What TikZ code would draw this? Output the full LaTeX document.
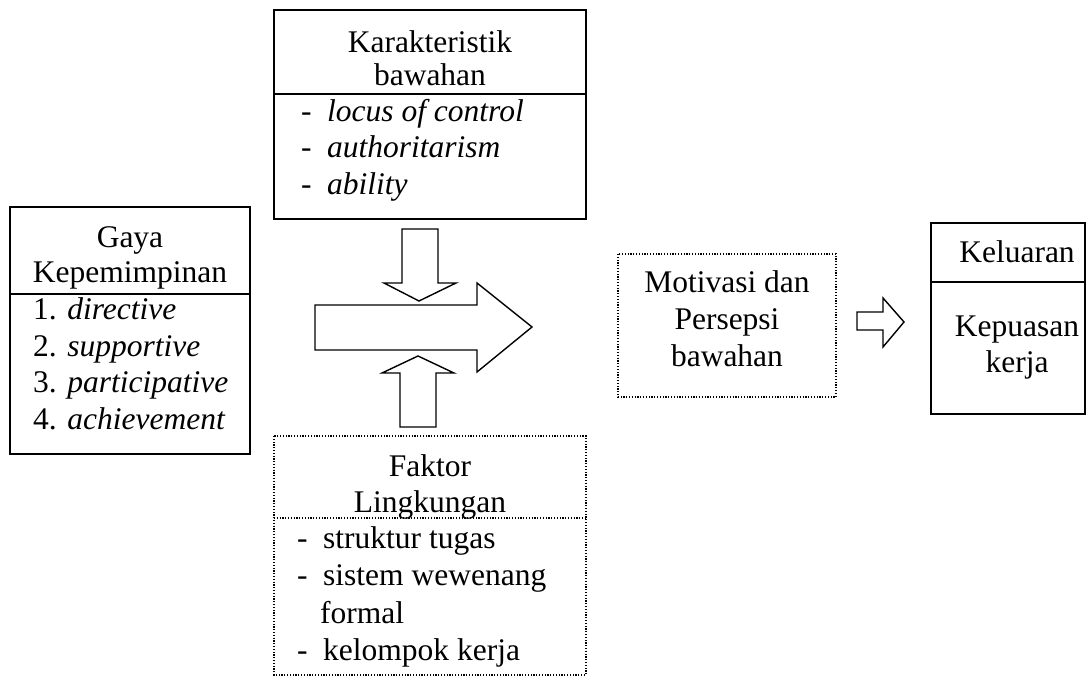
\documentclass[tikz,border=0pt]{standalone}
\usepackage{fontspec}
\setmainfont{Liberation Serif}
\tikzset{
  solidbox/.style={draw, line width=1.6pt},
  dotbox/.style={draw, line width=1.2pt, dash pattern=on 1.2pt off 1.6pt},
  blockarrow/.style={draw, line width=1.4pt, fill=white, line join=miter},
  txt/.style={inner sep=0pt, font=\fontsize{31.5}{37}\selectfont},
  ctext/.style={txt, anchor=base},
  ltext/.style={txt, anchor=base west},
}
\newcommand{\dashitem}[1]{\makebox[26pt][l]{-}#1}
\begin{document}
\begin{tikzpicture}[x=1pt, y=-1pt]
\useasboundingbox (0,0) rectangle (1088,676);

% Karakteristik bawahan
\draw[solidbox] (274,10) rectangle (586,219);
\draw[line width=1.6pt] (274,94) -- (586,94);
\node[ctext] (k1) at (430,53) {Karakteristik};
\node[ctext] (k2) at (430,86) {bawahan};
\node[ltext] (k3) at (301,122) {\dashitem{\textit{locus of control}}};
\node[ltext] (k4) at (301,158) {\dashitem{\textit{authoritarism}}};
\node[ltext] (k5) at (301,195) {\dashitem{\textit{ability}}};

% Gaya Kepemimpinan
\draw[solidbox] (10,207) rectangle (250,454);
\draw[line width=1.6pt] (10,294) -- (250,294);
\node[ctext] (g1) at (130,248) {Gaya};
\node[ctext] (g2) at (130,283) {Kepemimpinan};
\node[ltext] (g3) at (33,320) {1. \textit{directive}};
\node[ltext] (g4) at (33,357) {2. \textit{supportive}};
\node[ltext] (g5) at (33,393) {3. \textit{participative}};
\node[ltext] (g6) at (33,430) {4. \textit{achievement}};

% Faktor Lingkungan
\draw[dotbox] (274,436) rectangle (586,675);
\draw[dotbox] (274,518) -- (586,518);
\node[ctext] (f1) at (430,477) {Faktor};
\node[ctext] (f2) at (430,512) {Lingkungan};
\node[ltext] (f3) at (297,548) {\dashitem{struktur tugas}};
\node[ltext] (f4) at (297,585) {\dashitem{sistem wewenang}};
\node[ltext] (f5) at (320,623) {formal};
\node[ltext] (f6) at (297,660) {\dashitem{kelompok kerja}};

% Motivasi dan Persepsi bawahan
\draw[dotbox] (618,254) rectangle (836,397);
\node[ctext] (m1) at (727,293) {Motivasi dan};
\node[ctext] (m2) at (727,330) {Persepsi};
\node[ctext] (m3) at (727,367) {bawahan};

% Keluaran
\draw[solidbox] (931,223) rectangle (1085,414);
\draw[line width=1.6pt] (931,282) -- (1085,282);
\node[ctext] (o1) at (1017,263) {Keluaran};
\node[ctext] (o2) at (1017,337) {Kepuasan};
\node[ctext] (o3) at (1017,373) {kerja};

% block arrows
\draw[blockarrow] (402,229) -- (438,229) -- (438,283) -- (456,283) -- (419,301)
  -- (384,283) -- (402,283) -- cycle;
\draw[blockarrow] (315,305) -- (477,305) -- (477,283) -- (532,327) -- (477,372)
  -- (477,350) -- (315,350) -- cycle;
\draw[blockarrow] (400,427) -- (436,427) -- (436,373) -- (454,373) -- (418,356)
  -- (382,373) -- (400,373) -- cycle;
\draw[blockarrow] (857,312) -- (883,312) -- (883,298) -- (904,322) -- (883,347)
  -- (883,330) -- (857,330) -- cycle;
\end{tikzpicture}
\end{document}
